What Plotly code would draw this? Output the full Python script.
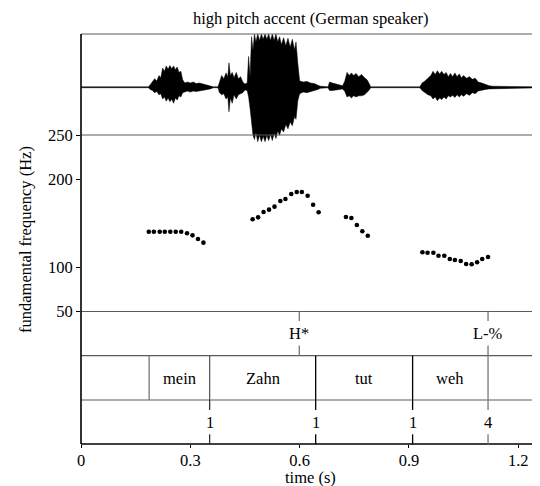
import plotly.graph_objects as go

# ---------------- data ----------------
title_text = "high pitch accent (German speaker)"

# waveform envelope (time s, upper, lower; 1 = panel top)
wave_time = [0.000, 0.185, 0.190, 0.196, 0.202, 0.208, 0.214, 0.219, 0.224, 0.229, 0.234, 0.239,
             0.244, 0.249, 0.254, 0.259, 0.264, 0.269, 0.274, 0.279, 0.285, 0.292, 0.300, 0.308,
             0.316, 0.325, 0.335, 0.345, 0.355, 0.363,
             0.376, 0.380, 0.386, 0.392, 0.398, 0.403, 0.406, 0.410, 0.415, 0.420, 0.426, 0.432,
             0.438, 0.444, 0.450, 0.456,
             0.460, 0.464, 0.468, 0.472, 0.476, 0.480, 0.485, 0.490, 0.495, 0.500, 0.505, 0.510,
             0.515, 0.520, 0.525, 0.530, 0.535, 0.540, 0.545, 0.550, 0.556, 0.562, 0.568, 0.574,
             0.580, 0.586, 0.590, 0.595, 0.600,
             0.610, 0.620, 0.630, 0.640, 0.650, 0.657, 0.678,
             0.682, 0.690, 0.700, 0.712, 0.718, 0.724, 0.730, 0.736, 0.742, 0.748, 0.755, 0.762,
             0.770, 0.778, 0.785, 0.790, 0.795,
             0.930, 0.936, 0.944, 0.952, 0.960, 0.966, 0.972, 0.978, 0.984, 0.990, 0.996, 1.002,
             1.008, 1.014, 1.020, 1.026, 1.032, 1.038, 1.044, 1.050, 1.058, 1.066, 1.074, 1.082,
             1.090, 1.100, 1.110, 1.120, 1.130, 1.260]
wave_upper = [0.008, 0.008, 0.05, 0.10, 0.16, 0.12, 0.22, 0.18, 0.36, 0.30, 0.40, 0.34,
              0.41, 0.35, 0.40, 0.33, 0.38, 0.28, 0.30, 0.14, 0.08, 0.10, 0.08, 0.10,
              0.07, 0.08, 0.06, 0.05, 0.03, 0.008,
              0.008, 0.10, 0.22, 0.16, 0.27, 0.20, 0.46, 0.22, 0.28, 0.18, 0.28, 0.16,
              0.20, 0.10, 0.06, 0.08,
              0.58, 0.20, 0.95, 0.70, 1.00, 0.85, 1.00, 0.88, 1.00, 0.90, 1.00, 0.90,
              1.00, 0.88, 1.00, 0.88, 1.00, 0.85, 0.95, 0.80, 0.93, 0.78, 0.92, 0.75,
              0.90, 0.70, 0.85, 0.45, 0.12,
              0.10, 0.11, 0.08, 0.07, 0.04, 0.02, 0.008,
              0.10, 0.08, 0.06, 0.04, 0.03, 0.12, 0.28, 0.22, 0.27, 0.22, 0.26, 0.20,
              0.24, 0.18, 0.14, 0.08, 0.008,
              0.008, 0.08, 0.12, 0.18, 0.22, 0.30, 0.24, 0.31, 0.25, 0.30, 0.24, 0.28,
              0.20, 0.26, 0.20, 0.27, 0.20, 0.25, 0.18, 0.22, 0.17, 0.20, 0.15, 0.17,
              0.10, 0.08, 0.05, 0.03, 0.02, 0.008]
wave_lower = [-0.008, -0.008, -0.04, -0.06, -0.10, -0.08, -0.14, -0.12, -0.22, -0.18, -0.26, -0.20,
              -0.27, -0.22, -0.30, -0.20, -0.24, -0.16, -0.18, -0.10, -0.08, -0.07, -0.09, -0.07,
              -0.08, -0.06, -0.06, -0.04, -0.03, -0.008,
              -0.008, -0.10, -0.14, -0.12, -0.22, -0.18, -0.46, -0.20, -0.30, -0.14, -0.22, -0.14,
              -0.12, -0.10, -0.05, -0.06,
              -0.18, -0.40, -0.60, -0.90, -0.98, -0.85, -1.02, -0.90, -1.02, -0.92, -1.02, -0.90,
              -1.00, -0.88, -1.00, -0.86, -0.96, -0.82, -0.90, -0.78, -0.84, -0.70, -0.78, -0.65,
              -0.72, -0.55, -0.60, -0.25, -0.12,
              -0.09, -0.10, -0.07, -0.06, -0.04, -0.02, -0.008,
              -0.06, -0.06, -0.05, -0.04, -0.03, -0.08, -0.18, -0.16, -0.20, -0.16, -0.18, -0.16,
              -0.16, -0.14, -0.10, -0.06, -0.008,
              -0.008, -0.06, -0.10, -0.14, -0.16, -0.22, -0.18, -0.25, -0.20, -0.23, -0.18, -0.22,
              -0.16, -0.18, -0.15, -0.19, -0.14, -0.18, -0.14, -0.17, -0.12, -0.15, -0.10, -0.12,
              -0.07, -0.06, -0.04, -0.03, -0.02, -0.008]

# pitch track (s, Hz)
pitch_time = [0.186, 0.200, 0.216, 0.230, 0.245, 0.260, 0.275, 0.291, 0.306, 0.321, 0.336,
              0.471, 0.486, 0.501, 0.516, 0.531, 0.547, 0.561, 0.577, 0.592, 0.606, 0.622, 0.637, 0.652,
              0.727, 0.742, 0.757, 0.772, 0.787,
              0.937, 0.951, 0.967, 0.981, 0.997, 1.012, 1.026, 1.042, 1.057, 1.072, 1.087, 1.101, 1.117]
pitch_hz = [140.4, 140.4, 140.4, 140.4, 140.4, 140.4, 140.4, 138.6, 136.3, 132.2, 128.0,
            154.5, 156.7, 162.7, 165.4, 168.8, 175.2, 177.5, 183.1, 185.4, 185.4, 181.2, 171.0, 162.4,
            157.1, 156.0, 148.0, 140.9, 135.9,
            117.1, 116.6, 116.6, 113.2, 113.2, 109.5, 108.4, 107.2, 103.8, 103.5, 105.8, 109.5, 111.8]

pitch_ticks = [50, 100, 200, 250]
time_ticks = [0, 0.3, 0.6, 0.9, 1.2]
time_tick_labels = ["0", "0.3", "0.6", "0.9", "1.2"]

tone_times = [0.599, 1.117]
tone_labels = ["H*", "L-%"]
word_bounds = [0.187, 0.353, 0.644, 0.910, 1.117]
word_labels = ["mein", "Zahn", "tut", "weh"]
break_times = [0.353, 0.644, 0.910, 1.117]
break_labels = ["1", "1", "1", "4"]

x_max = 1.2596

# ---------------- layout helpers ----------------
OFF = 8  # page body margin of the browser
W, H = 540 - OFF, 486 - OFF
ML, MR, MT, MB = 81 - OFF, 0, 34 - OFF, 486 - 444 - 0
PH = H - MT - MB


def py(y_win):
    return (H - MB - (y_win - OFF)) / PH


def px_x(x_win):
    return (x_win - OFF - ML) / (W - ML - MR)


FONT = "Liberation Serif"
FS = 16.5
GRAY = "#5a5a5a"
LGRAY = "#777777"

fig = go.Figure()

# waveform
fig.add_trace(go.Scatter(
    x=wave_time + wave_time[::-1],
    y=wave_upper + wave_lower[::-1],
    fill="toself", fillcolor="black", mode="lines",
    line=dict(color="black", width=0.5),
    xaxis="x", yaxis="y2", hoverinfo="skip", showlegend=False))

# pitch dots
fig.add_trace(go.Scatter(
    x=pitch_time, y=pitch_hz, mode="markers",
    marker=dict(color="black", size=4.6),
    xaxis="x", yaxis="y", showlegend=False))

wave_top, wave_center, wave_bottom = 34.0, 87.3, 150.0
amp = wave_center - wave_top

fig.update_layout(
    width=W, height=H,
    margin=dict(l=ML, r=MR, t=MT, b=MB),
    paper_bgcolor="white", plot_bgcolor="white",
    font=dict(family=FONT, size=FS, color="black"),
    xaxis=dict(range=[0, x_max], anchor="free", position=0,
               tickmode="array", tickvals=time_ticks, ticktext=time_tick_labels,
               ticks="outside", ticklen=3, tickcolor="black", tickwidth=1,
               ticklabelstandoff=-2,
               showgrid=False, zeroline=False, showline=False,
               tickfont=dict(family=FONT, size=FS)),
    yaxis=dict(domain=[py(311.5), py(135.0)], range=[50, 250],
               tickmode="array", tickvals=pitch_ticks,
               ticks="outside", ticklen=4, tickcolor="black", tickwidth=1,
               showgrid=False, zeroline=False, showline=False,
               tickfont=dict(family=FONT, size=FS)),
    yaxis2=dict(domain=[py(wave_bottom), py(wave_top)],
                range=[-(wave_bottom - wave_center) / amp, 1.0],
                visible=False, anchor="x"),
)

shapes = []
# horizontal separators (gray)
for ypx in [34.0, 135.0, 311.5, 355.7, 400.0]:
    shapes.append(dict(type="line", xref="paper", yref="paper", x0=0, x1=1,
                       y0=py(ypx), y1=py(ypx), line=dict(color=GRAY, width=1.2), layer="above"))
# bottom axis and left frame (black)
shapes.append(dict(type="line", xref="paper", yref="paper", x0=0, x1=1, y0=0, y1=0,
                   line=dict(color="black", width=1.6), layer="above"))
shapes.append(dict(type="line", xref="paper", yref="paper", x0=0, x1=0, y0=0, y1=py(34.0),
                   line=dict(color="black", width=1.6), layer="above"))

word_colors = [LGRAY, GRAY, "black", "black", LGRAY]
for t, c in zip(word_bounds, word_colors):
    shapes.append(dict(type="line", xref="x", yref="paper", x0=t, x1=t,
                       y0=py(400.0), y1=py(355.7), line=dict(color=c, width=1.3)))

# point tier marks (tones) with a gap for the label
for t in tone_times:
    for a, b in [(311.5, 321.0), (345.5, 355.7)]:
        shapes.append(dict(type="line", xref="x", yref="paper", x0=t, x1=t,
                           y0=py(b), y1=py(a), line=dict(color=LGRAY, width=1.3)))
break_colors = ["#333333", "black", "black", LGRAY]
for t, c in zip(break_times, break_colors):
    for a, b in [(400.0, 410.0), (434.3, 444.3)]:
        shapes.append(dict(type="line", xref="x", yref="paper", x0=t, x1=t,
                           y0=py(b), y1=py(a), line=dict(color=c, width=1.3)))

annotations = []
annotations.append(dict(text=title_text, xref="paper", yref="paper",
                        x=0.5, y=py(18.5), xanchor="center", yanchor="middle",
                        showarrow=False, font=dict(family=FONT, size=FS)))
annotations.append(dict(text="fundamental frequency (Hz)", xref="paper", yref="paper",
                        x=px_x(25.0), y=py(240.0), xanchor="center", yanchor="middle",
                        textangle=-90, showarrow=False, font=dict(family=FONT, size=FS)))
annotations.append(dict(text="time (s)", xref="paper", yref="paper",
                        x=0.5, y=py(477.5), xanchor="center", yanchor="middle",
                        showarrow=False, font=dict(family=FONT, size=FS)))
for t, lab in zip(tone_times, tone_labels):
    annotations.append(dict(text=lab, xref="x", yref="paper", x=t, y=py(333.5),
                            xanchor="center", yanchor="middle", showarrow=False,
                            font=dict(family=FONT, size=FS)))
for i, lab in enumerate(word_labels):
    mid = (word_bounds[i] + word_bounds[i + 1]) / 2
    annotations.append(dict(text=lab, xref="x", yref="paper", x=mid, y=py(378.5),
                            xanchor="center", yanchor="middle", showarrow=False,
                            font=dict(family=FONT, size=FS)))
for t, lab in zip(break_times, break_labels):
    annotations.append(dict(text=lab, xref="x", yref="paper", x=t, y=py(422.3),
                            xanchor="center", yanchor="middle", showarrow=False,
                            font=dict(family=FONT, size=FS)))

fig.update_layout(shapes=shapes, annotations=annotations)
fig.write_html("out.html")
